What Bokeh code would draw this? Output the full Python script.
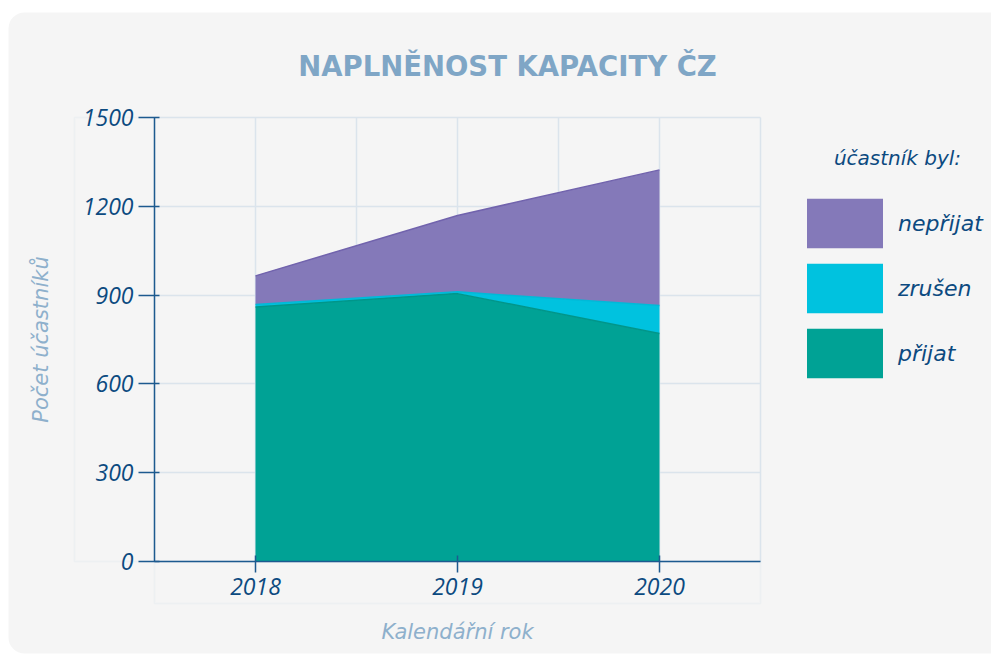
import numpy as np
from bokeh.plotting import figure
from bokeh.models import (Range1d, FixedTicker, BoxAnnotation, Label, Legend,
                          LegendItem, ColumnDataSource, LinearAxis, Grid)
from bokeh.embed import file_html
from bokeh.resources import INLINE

# ---- data ----
years = [2018, 2019, 2020]
prijat = [860, 905, 770]
zrusen = [8, 6, 95]
neprijat = [97, 258, 458]
series_keys = ["prijat", "zrusen", "neprijat"]
series_labels = ["přijat", "zrušen", "nepřijat"]
y_ticks = [0, 300, 600, 900, 1200, 1500]
title_text = "NAPLNĚNOST KAPACITY ČZ"
x_title = "Kalendářní rok"
y_title = "Počet účastníků"
legend_title = "účastník byl:"

# ---- styles ----
fill_colors = ["#00a295", "#00c2df", "#8479b9"]
line_colors = ["#00968a", "#00b9d8", "#7163ad"]
DARK = "#0c4a80"
AXIS = "#1d5a8f"
LIGHT = "#8eb0cc"
GRID = "#dbe4ec"
NUM_FONT = "Open Sans"
TXT_FONT = "DejaVu Sans"

# ---- layout (pixels) ----
W, H = 991, 654
PX_L, PX_R, PX_T, PX_B = 154, 760, 117, 561   # plotting area on canvas
x0, x1 = years[0] - 0.5, years[-1] + 0.5
y0, y1 = y_ticks[0], y_ticks[-1]
kx = (PX_R - PX_L) / (x1 - x0)
ky = (PX_B - PX_T) / (y1 - y0)

p = figure(width=W, height=H, output_backend="svg", toolbar_location=None,
           x_range=Range1d(x0 - PX_L / kx, x1 + (W - PX_R) / kx),
           y_range=Range1d(y0 - (H - PX_B) / ky, y1 + PX_T / ky),
           x_axis_type=None, y_axis_type=None,
           min_border=0, min_border_left=0, min_border_right=0,
           min_border_top=0, min_border_bottom=0)
p.border_fill_color = "white"
p.background_fill_color = "white"
p.outline_line_color = None

def sc(**kw):
    d = {}
    for k, v in kw.items():
        d[k] = v
        d[k + "_units"] = "screen"
    return d

# card background
card = BoxAnnotation(**sc(left=8, right=W + 50, top=H - 12, bottom=H - 653),
                     fill_color="#f5f5f5", fill_alpha=1, line_color=None,
                     border_radius=(16, 0, 0, 16), level="image")
# light panel boxes around the axes
ybox = BoxAnnotation(**sc(left=74, right=PX_L, top=H - PX_T, bottom=H - PX_B),
                     fill_color=None, fill_alpha=0, line_color=GRID, line_width=1.5,
                     level="underlay")
xbox = BoxAnnotation(**sc(left=PX_L, right=PX_R, top=H - PX_B, bottom=H - 603),
                     fill_color=None, fill_alpha=0, line_color=GRID, line_width=1.5,
                     level="underlay")
p.add_layout(card)
p.add_layout(ybox)
p.add_layout(xbox)

# grids
xgrid = Grid(dimension=0, ticker=FixedTicker(ticks=list(np.arange(years[0], x1 + 0.01, 0.5))),
             bounds=(x0, x1), cross_bounds=(y0, y1),
             grid_line_color=GRID, grid_line_width=1.5)
ygrid = Grid(dimension=1, ticker=FixedTicker(ticks=y_ticks),
             bounds=(y0, y1), cross_bounds=(x0, x1),
             grid_line_color=GRID, grid_line_width=1.5)
p.add_layout(xgrid)
p.add_layout(ygrid)

# areas
src = ColumnDataSource(dict(year=years, prijat=prijat, zrusen=zrusen, neprijat=neprijat))
areas = p.varea_stack(stackers=series_keys, x="year", color=fill_colors, source=src)
tops = np.cumsum(np.array([prijat, zrusen, neprijat]), axis=0)
for i in range(3):
    p.line(years, tops[i], line_color=line_colors[i], line_width=1.5)

# axes
xaxis = LinearAxis(fixed_location=y0, bounds=(x0, x1), ticker=FixedTicker(ticks=years),
                   axis_label=x_title)
yaxis = LinearAxis(fixed_location=x0, bounds=(y0, y1), ticker=FixedTicker(ticks=y_ticks),
                   axis_label=y_title)
for ax in (xaxis, yaxis):
    ax.axis_line_color = AXIS
    ax.axis_line_width = 1.5
    ax.major_tick_line_color = AXIS
    ax.major_tick_line_width = 1.5
    ax.minor_tick_out = 0
    ax.minor_tick_in = 0
    ax.major_label_text_font = NUM_FONT
    ax.major_label_text_font_style = "italic"
    ax.major_label_text_font_size = "23px"
    ax.major_label_text_color = DARK
    ax.axis_label_text_font = TXT_FONT
    ax.axis_label_text_font_style = "italic"
    ax.axis_label_text_font_size = "21px"
    ax.axis_label_text_color = LIGHT
yaxis.major_tick_out = 16
yaxis.major_tick_in = 5
yaxis.major_label_standoff = 5
yaxis.axis_label_standoff = 27
xaxis.major_tick_out = 11
xaxis.major_tick_in = 6
xaxis.major_label_standoff = 5
xaxis.axis_label_standoff = 22
p.add_layout(xaxis, "below")
p.add_layout(yaxis, "left")

# title
p.add_layout(Label(**sc(x=507, y=H - 65), text=title_text,
                   text_align="center", text_baseline="middle",
                   text_font="DejaVu Sans", text_font_style="bold",
                   text_font_size="27.5px", text_color="#7fa6c6"))

# legend
items = [LegendItem(label=series_labels[i], renderers=[areas[i]]) for i in (2, 1, 0)]
legend = Legend(items=items, location=(797, H - 384), orientation="vertical",
                glyph_width=95, glyph_height=62, spacing=3, label_standoff=6,
                padding=0, margin=0, border_line_color=None, background_fill_alpha=0,
                label_text_font=TXT_FONT, label_text_font_style="italic",
                label_text_font_size="22px", label_text_color=DARK)
p.add_layout(legend)
p.add_layout(Label(**sc(x=897, y=H - 157), text=legend_title,
                   text_align="center", text_baseline="middle",
                   text_font=TXT_FONT, text_font_style="italic",
                   text_font_size="20px", text_color=DARK))

open("out.html", "w").write(file_html(p, INLINE))
